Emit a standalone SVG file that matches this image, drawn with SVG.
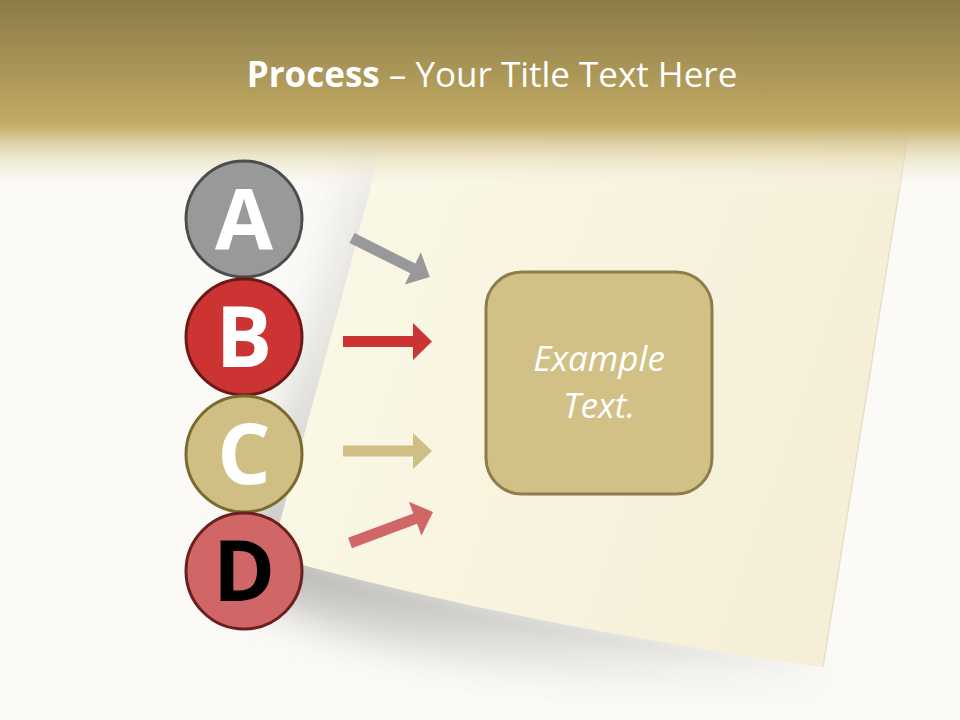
<svg xmlns="http://www.w3.org/2000/svg" width="960" height="720" viewBox="0 0 960 720">
  <defs>
    <linearGradient id="band" x1="0" y1="0" x2="0" y2="1">
      <stop offset="0" stop-color="#8a7b48"/>
      <stop offset="0.62" stop-color="#c1a962"/>
      <stop offset="0.66" stop-color="#c6b06c" stop-opacity="0.95"/>
      <stop offset="0.8" stop-color="#e2d6ad" stop-opacity="0.6"/>
      <stop offset="1" stop-color="#ffffff" stop-opacity="0"/>
    </linearGradient>
    <linearGradient id="paperFill" x1="0" y1="0" x2="1" y2="0.3">
      <stop offset="0" stop-color="#fbf9e8"/>
      <stop offset="1" stop-color="#f5efd8"/>
    </linearGradient>
    <linearGradient id="shadowFill" gradientUnits="userSpaceOnUse" x1="250" y1="0" x2="830" y2="0">
      <stop offset="0" stop-color="#8c8c88" stop-opacity="0.6"/>
      <stop offset="0.5" stop-color="#9a9a96" stop-opacity="0.33"/>
      <stop offset="1" stop-color="#a8a8a4" stop-opacity="0.1"/>
    </linearGradient>
    <filter id="blur" x="-20%" y="-20%" width="140%" height="140%">
      <feGaussianBlur stdDeviation="22"/>
    </filter>
    <filter id="blurS" x="-20%" y="-20%" width="140%" height="140%">
      <feGaussianBlur stdDeviation="7"/>
    </filter>
    <style>
      .circ { stroke-width: 3; }
      .letter { font-family: "Open Sans", "DejaVu Sans", sans-serif; font-weight: bold; font-size: 84px; text-anchor: middle; }
      .boxtext { font-family: "Open Sans", "DejaVu Sans", sans-serif; font-style: italic; font-size: 35px; fill: #ffffff; text-anchor: middle; }
      .title { font-family: "Open Sans", "DejaVu Sans", sans-serif; font-size: 35px; fill: #ffffff; text-anchor: middle; }
    </style>
  </defs>

  <!-- background -->
  <rect x="0" y="0" width="960" height="720" fill="#fbfaf6"/>

  <!-- paper shadows -->
  <path d="M365,160 C335,290 300,420 230,570 C300,640 500,670 822,680 L825,662 C650,630 450,590 290,540 C320,420 350,290 380,150 Z" fill="url(#shadowFill)" filter="url(#blur)"/>
  <path d="M380,140 C360,260 330,400 285,530 C300,500 330,420 360,300 Z" fill="#a0a09c" opacity="0.4" filter="url(#blurS)"/>
  <path d="M290,565 C450,610 650,645 820,668 C650,655 450,625 290,575 Z" fill="#a0a09c" opacity="0.22" filter="url(#blurS)"/>

  <!-- paper -->
  <path id="paper" d="M390,110 L912,110 L823,667 C700,650 480,614 292,562 L276,536 C300,450 345,290 385,130 Z" fill="url(#paperFill)"/>
  <path d="M912,110 L823,667" stroke="#e6e0c8" stroke-width="1.5" fill="none"/>

  <!-- top band -->
  <rect x="0" y="0" width="960" height="195" fill="url(#band)"/>

  <text class="title" x="492" y="87"><tspan font-weight="bold">Process</tspan> – Your Title Text Here</text>

  <!-- connectors -->
  <g id="connectors">
    <polygon transform="translate(352,238) rotate(26.6)" points="0,-5.5 68,-5.5 68,-18 87,0 68,18 68,5.5 0,5.5" fill="#999999"/>
    <polygon transform="translate(343,341.5)" points="0,-5.5 70,-5.5 70,-18.5 89,0 70,18.5 70,5.5 0,5.5" fill="#cc3333"/>
    <polygon transform="translate(343,451)" points="0,-5.5 70,-5.5 70,-18 89,0 70,18 70,5.5 0,5.5" fill="#cfbf85"/>
    <polygon transform="translate(350,543) rotate(-20.5)" points="0,-5.5 69.6,-5.5 69.6,-18 88.6,0 69.6,18 69.6,5.5 0,5.5" fill="#d06666"/>
  </g>

  <!-- nodes -->
  <g id="node-A">
    <circle class="circ" cx="244" cy="219" r="58" fill="#999999" stroke="#4d4d4d"/>
    <text class="letter" x="244" y="249" fill="#ffffff">A</text>
  </g>
  <g id="node-B">
    <circle class="circ" cx="244" cy="337" r="58" fill="#cc3333" stroke="#6b1818"/>
    <text class="letter" x="244" y="367" fill="#ffffff">B</text>
  </g>
  <g id="node-C">
    <circle class="circ" cx="244" cy="454" r="58" fill="#cfbf85" stroke="#7a6a2e"/>
    <text class="letter" x="244" y="484" fill="#ffffff">C</text>
  </g>
  <g id="node-D">
    <circle class="circ" cx="244" cy="571" r="58" fill="#d06666" stroke="#6b1f1f"/>
    <text class="letter" x="244" y="601" fill="#000000">D</text>
  </g>

  <g id="node-box">
    <rect x="486" y="272" width="226" height="222" rx="36" ry="36" fill="#d1c187" stroke="#8c7d4a" stroke-width="3"/>
    <text class="boxtext" x="599" y="371">Example</text>
    <text class="boxtext" x="599" y="418">Text.</text>
  </g>
</svg>
